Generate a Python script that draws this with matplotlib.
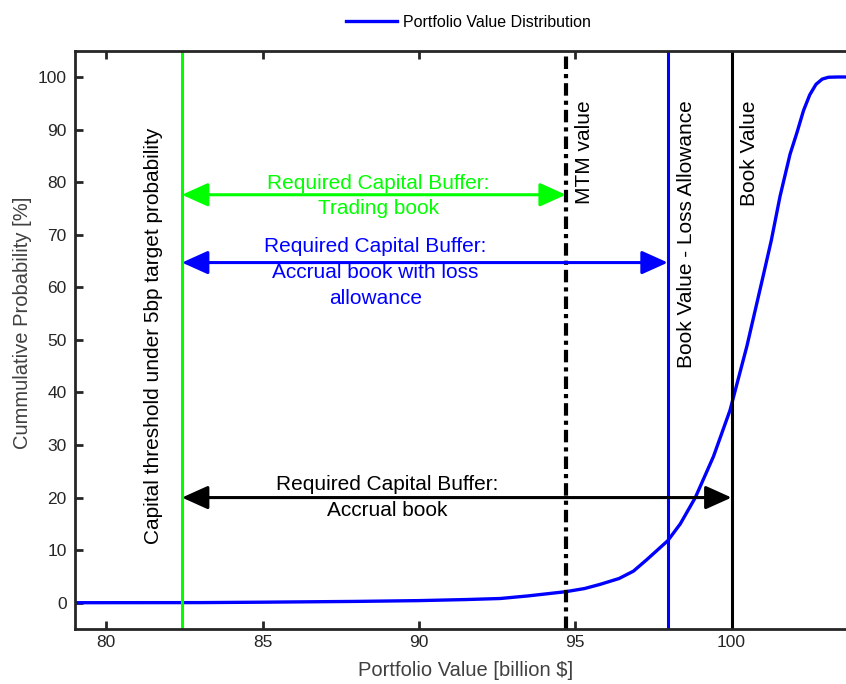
import numpy as np
import matplotlib.pyplot as plt

plt.rcParams['font.family'] = ['Liberation Sans', 'DejaVu Sans']

# Curve: portfolio value [billion $] vs cumulative probability [%]
valor = [79.0, 83.0, 85.0, 88.0, 90.0, 91.5, 92.6, 93.5, 94.7, 95.3, 95.8, 96.4, 96.86,
         97.29, 97.96, 98.36, 98.84, 99.42, 99.95, 100.49, 101.02, 101.27, 101.55,
         101.87, 102.09, 102.3, 102.5, 102.7, 102.9, 103.1, 103.4, 103.7]
prob = [0.0, 0.02, 0.1, 0.25, 0.4, 0.6, 0.8, 1.3, 2.1, 2.7, 3.5, 4.6, 6.0,
        8.2, 11.8, 15.0, 20.0, 27.8, 36.6, 48.8, 62.4, 68.9, 77.3,
        85.3, 89.4, 93.6, 96.6, 98.6, 99.6, 99.95, 100.0, 100.0]

# Reference values
capital = 82.42
mtm = 94.7
book_loss = 97.96
book = 100.0

# Arrow levels
y_verde = 77.6
y_azul = 64.7
y_negro = 20.0

xticks = [80, 85, 90, 95, 100]
yticks = [0, 10, 20, 30, 40, 50, 60, 70, 80, 90, 100]

gris = '#262626'
verde = '#00ff00'
azul = '#0000ff'

fig = plt.figure(figsize=(8.46, 6.84), dpi=100)
ax = fig.add_axes([75/846, 55/684, (846-75)/846, (629-50.7)/684])

linea, = ax.plot(valor, prob, color=azul, lw=2.4, label='Portfolio Value Distribution')

# Vertical lines
ax.axvline(capital, color=verde, lw=2.2)
ax.axvline(mtm, color='black', lw=3, linestyle=(0, (3, 1.2, 1, 1.2)))
ax.axvline(book_loss, color=azul, lw=2.2)
ax.axvline(book, color='black', lw=2.2)

# Double arrows
def flecha(x0, x1, y, color):
    ax.annotate('', xy=(x1, y), xytext=(x0, y),
                arrowprops=dict(arrowstyle='<|-|>,head_length=1.0,head_width=0.45',
                                color=color, lw=2.2, mutation_scale=16,
                                shrinkA=0, shrinkB=0))

flecha(capital, mtm, y_verde, verde)
flecha(capital, book_loss, y_azul, azul)
flecha(capital, book, y_negro, 'black')

ax.text(88.7, 81.6, 'Required Capital Buffer:\nTrading book', color=verde,
        fontsize=15, ha='center', va='top', linespacing=1.45)
ax.text(88.6, 69.5, 'Required Capital Buffer:\nAccrual book with loss\nallowance',
        color=azul, fontsize=15, ha='center', va='top', linespacing=1.45)
ax.text(89.0, 24.2, 'Required Capital Buffer:\nAccrual book', color='black',
        fontsize=15, ha='center', va='top', linespacing=1.45)

# Rotated labels
ax.text(81.5, 50.7, 'Capital threshold under 5bp target probability', rotation=90,
        fontsize=15, ha='center', va='center')
ax.text(95.31, 95.5, 'MTM value', rotation=90, fontsize=15, ha='center', va='top')
ax.text(98.57, 95.5, 'Book Value - Loss Allowance', rotation=90, fontsize=15,
        ha='center', va='top')
ax.text(100.56, 95.5, 'Book Value', rotation=90, fontsize=15, ha='center', va='top')

ax.set_xlim(79.0, 103.66)
ax.set_ylim(-5, 105)
ax.set_xticks(xticks)
ax.set_yticks(yticks)
ax.tick_params(direction='in', length=6, width=2, colors=gris, labelsize=12.5,
               top=True, right=False)
ax.tick_params(axis='x', pad=4)
ax.tick_params(axis='y', pad=6)
for lado in ['left', 'bottom', 'top']:
    ax.spines[lado].set_linewidth(2)
    ax.spines[lado].set_color(gris)
ax.spines['right'].set_visible(False)

ax.set_xlabel('Portfolio Value [billion $]', fontsize=14.5, color='#404040')
ax.set_ylabel('Cummulative Probability [%]', fontsize=14.5, color='#404040')
ax.xaxis.set_label_coords(0.507, -0.056)
ax.yaxis.set_label_coords(-0.056, 0.529)

fig.legend(handles=[linea], loc='upper center', bbox_to_anchor=(0.554, 0.999),
           frameon=False, fontsize=11.5, handlelength=3.2, handletextpad=0.4)

plt.savefig('out.png', dpi=100)
